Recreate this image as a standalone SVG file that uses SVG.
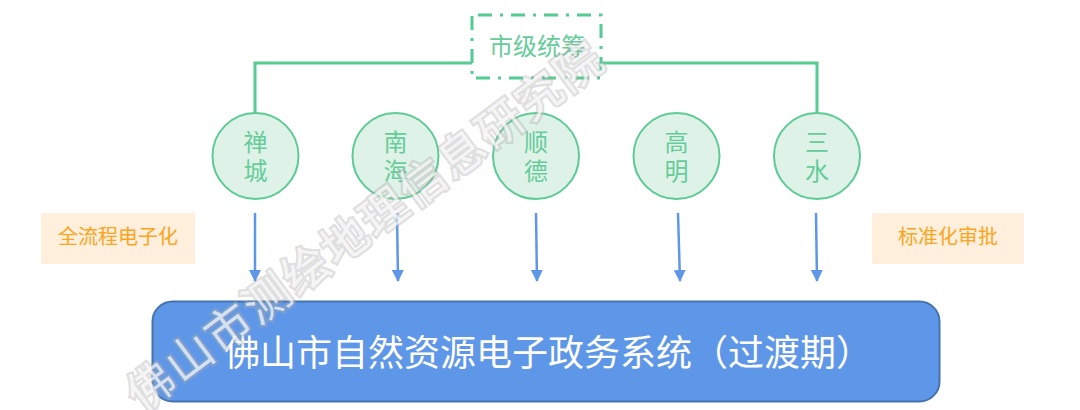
<svg xmlns="http://www.w3.org/2000/svg" width="1080" height="410" viewBox="0 0 1080 410">
<style>
text{font-family:"Noto Sans CJK SC","Microsoft YaHei",sans-serif;text-anchor:middle}
.g{fill:#66cc9a;font-size:24px}
.c{fill:#dff2e8;stroke:#5ccb95;stroke-width:2}
.gl{fill:none;stroke:#58cc92;stroke-width:3}
.bl{fill:none;stroke:#5f97e8;stroke-width:2.500;marker-end:url(#a)}
.o{fill:#ffefdc}
.ot{fill:#fba51d;font-size:20px}
.wm{font-size:46px;fill:#fff;fill-opacity:.7;stroke:#aaa;stroke-opacity:.38;stroke-width:4.500px;letter-spacing:2.500px;paint-order:stroke}
</style>
<defs><marker id="a" markerUnits="userSpaceOnUse" markerWidth="12" markerHeight="12" refX="11" refY="6" orient="auto"><path d="M0,0L12,6L0,12z" fill="#5f97e8"/></marker></defs>
<g id="connectors">
<path class="gl" d="M255,114V63H472M602,63H817V114"/>
<path class="bl" d="M255,213V281"/>
<path class="bl" d="M397,213L398,281"/>
<path class="bl" d="M536,213L537,281"/>
<path class="bl" d="M678,213L680,281"/>
<path class="bl" d="M816,213L817,281"/>
</g>
<g id="n-top"><rect x="472" y="15" width="129" height="63" fill="#fff" stroke="#52cc92" stroke-width="3" stroke-dasharray="14 8 3 8" stroke-dashoffset="27"/><text class="g" x="537" y="55">市级统筹</text></g>
<g id="n1"><circle class="c" cx="255.500" cy="156" r="43"/><text class="g" x="255.500" y="151">禅</text><text class="g" x="255.500" y="180">城</text></g>
<g id="n2"><circle class="c" cx="395.500" cy="156" r="43"/><text class="g" x="395.500" y="151">南</text><text class="g" x="395.500" y="180">海</text></g>
<g id="n3"><circle class="c" cx="536" cy="156" r="43"/><text class="g" x="536" y="151">顺</text><text class="g" x="536" y="180">德</text></g>
<g id="n4"><circle class="c" cx="676.500" cy="156" r="43"/><text class="g" x="676.500" y="151">高</text><text class="g" x="676.500" y="180">明</text></g>
<g id="n5"><circle class="c" cx="817" cy="156" r="43"/><text class="g" x="817" y="151">三</text><text class="g" x="817" y="180">水</text></g>
<g id="l"><rect class="o" x="41" y="213" width="154" height="51"/><text class="ot" x="118" y="244">全流程电子化</text></g>
<g id="r"><rect class="o" x="872" y="213" width="152" height="51"/><text class="ot" x="948" y="244">标准化审批</text></g>
<g id="sys"><rect x="152.500" y="301.500" width="787" height="100" rx="20" fill="#5f97e8" stroke="#4473b0" stroke-width="2"/><text x="548" y="366" fill="#fff" font-size="36">佛山市自然资源电子政务系统（过渡期）</text></g>
<text class="wm" transform="translate(142,413) rotate(-36.800)" style="text-anchor:start">佛山市测绘地理信息研究院</text>
</svg>
